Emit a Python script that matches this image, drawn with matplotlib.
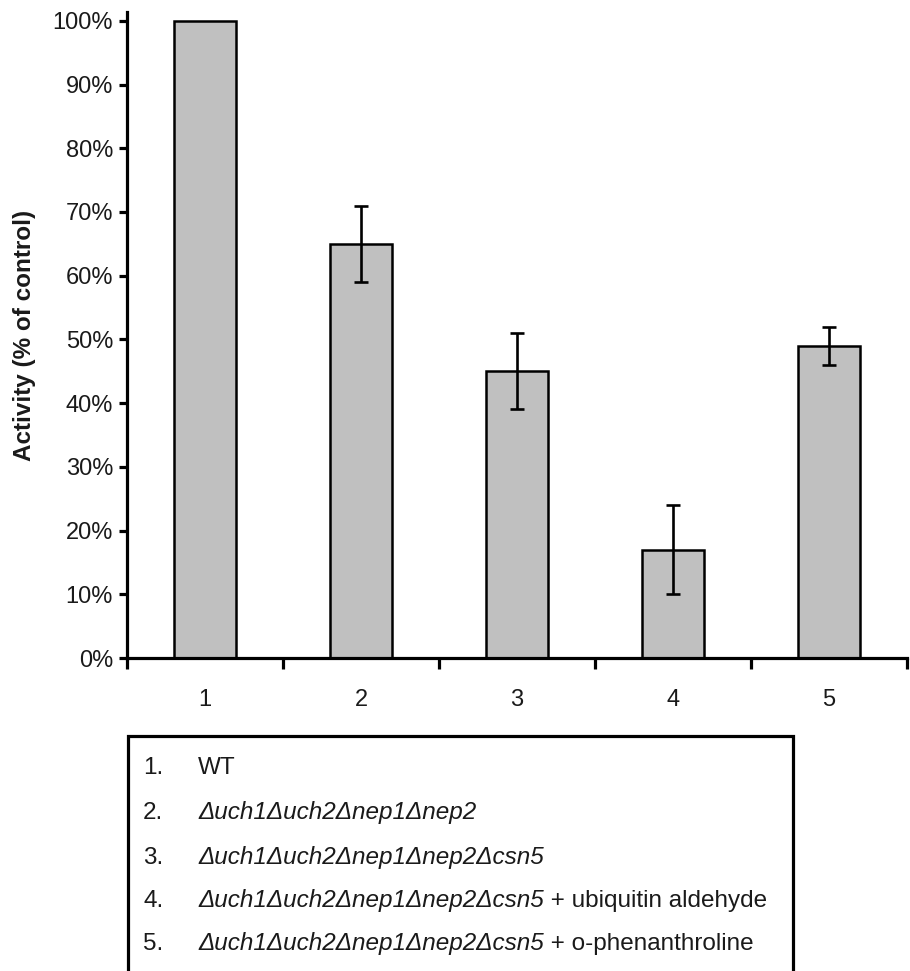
import matplotlib
matplotlib.use("Agg")
import matplotlib.pyplot as plt
from matplotlib.patches import Rectangle
from matplotlib.ticker import FixedLocator, FixedFormatter

plt.rcParams['font.family'] = ['Liberation Sans', 'DejaVu Sans']

categories = ["1", "2", "3", "4", "5"]
activity = [100, 65, 45, 17, 49]
errors = [0, 6, 6, 7, 3]
yticks = [0, 10, 20, 30, 40, 50, 60, 70, 80, 90, 100]
ytick_labels = [f"{v}%" for v in yticks]
legend_numbers = ["1.", "2.", "3.", "4.", "5."]
legend_italic = ["", "\u0394uch1\u0394uch2\u0394nep1\u0394nep2",
                 "\u0394uch1\u0394uch2\u0394nep1\u0394nep2\u0394csn5",
                 "\u0394uch1\u0394uch2\u0394nep1\u0394nep2\u0394csn5",
                 "\u0394uch1\u0394uch2\u0394nep1\u0394nep2\u0394csn5"]
legend_plain = ["WT", "", "", " + ubiquitin aldehyde", " + o-phenanthroline"]

W, H = 910, 971
PX = 6.372  # pixels per percent
top_px = 12
fig = plt.figure(figsize=(W / 100, H / 100), dpi=100)
ax = fig.add_axes([127 / W, 1 - 658 / H, (907 - 127) / W, (658 - top_px) / H])

x = list(range(1, len(categories) + 1))
ax.bar(x, activity, width=0.4, color="#c0c0c0", edgecolor="black", linewidth=1.8, zorder=2)
err_x = [xi for xi, e in zip(x, errors) if e > 0]
err_y = [a for a, e in zip(activity, errors) if e > 0]
err_v = [e for e in errors if e > 0]
ax.errorbar(err_x, err_y, yerr=err_v, fmt="none", ecolor="black", elinewidth=1.9,
            capsize=4.8, capthick=1.9, zorder=3)

ax.set_xlim(0.5, 5.5)
ax.set_ylim(0, (658 - top_px) / PX)
ax.spines['top'].set_visible(False)
ax.spines['right'].set_visible(False)
for s in ['left', 'bottom']:
    ax.spines[s].set_linewidth(2.3)

TXT = "#1a1a1a"
ax.set_yticks(yticks)
ax.set_yticklabels(ytick_labels, fontsize=17, color=TXT)
ax.tick_params(axis='y', direction='out', length=6, width=2.3, pad=4)

ax.xaxis.set_major_locator(FixedLocator([0.5, 1.5, 2.5, 3.5, 4.5, 5.5]))
ax.xaxis.set_major_formatter(FixedFormatter([""] * 6))
ax.xaxis.set_minor_locator(FixedLocator(x))
ax.xaxis.set_minor_formatter(FixedFormatter(categories))
ax.tick_params(axis='x', which='major', direction='out', length=8, width=2.3)
ax.tick_params(axis='x', which='minor', length=0, pad=22, labelsize=17, labelcolor=TXT)

ax.set_ylabel("Activity (% of control)", fontsize=17.5, fontweight='bold', color=TXT)
ax.yaxis.set_label_coords(-(127 - 36) / (907 - 127), (658 - 335) / (658 - top_px))

# Legend box
box = Rectangle((128 / W, -0.05), (793 - 128) / W, 0.05 + (1 - 736 / H),
                transform=fig.transFigure, fill=False, edgecolor="black", linewidth=2.3)
fig.patches.append(box)

FS = 17.5
rows_base = [774, 819, 864, 907, 950]
for num, it, pl, yy in zip(legend_numbers, legend_italic, legend_plain, rows_base):
    yf = 1 - yy / H
    fig.text(143 / W, yf, num, fontsize=FS, va='baseline', ha='left', color=TXT)
    if it:
        t1 = fig.text(198 / W, yf, it, fontsize=FS, style='italic', va='baseline', ha='left',
                      color=TXT)
        if pl:
            ax.annotate(pl, xy=(1, 0), xycoords=t1, va='bottom', ha='left', fontsize=FS,
                        color=TXT, annotation_clip=False)
    else:
        fig.text(198 / W, yf, pl, fontsize=FS, va='baseline', ha='left', color=TXT)

fig.savefig("out.png", dpi=100)
